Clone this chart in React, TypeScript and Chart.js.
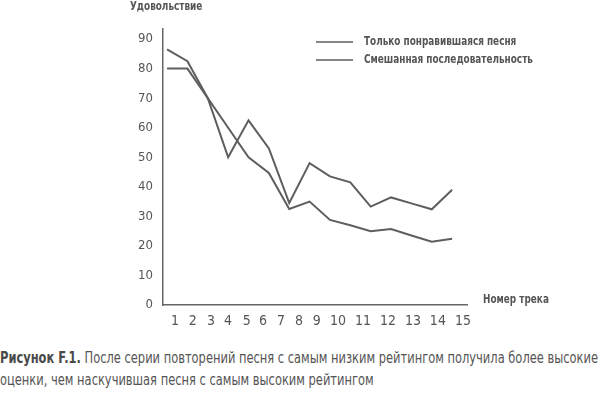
import React, { useEffect, useRef } from "react";
import { Chart, registerables } from "chart.js";

Chart.register(...registerables);

const tracks = [1, 2, 3, 4, 5, 6, 7, 8, 9, 10, 11, 12, 13, 14, 15];
const onlyLiked = [80, 80, 70, 60, 50, 44.7, 32.5, 35, 28.8, 27, 25, 25.7, 23.5, 21.4, 22.4];
const mixed = [86.5, 82.5, 70, 50, 62.5, 53, 34.5, 48, 43.5, 41.5, 33.3, 36.4, 34.4, 32.4, 39];
const seriesLabels = ["Только понравившаяся песня", "Смешанная последовательность"];
const xTickLabels = ["1", "2", "3", "4", "5", "6", "7", "8", "9", "10", "11", "12", "13", "14", "15"];
const xTickValues = [1.39, 2.26, 3.16, 3.99, 4.91, 5.71, 6.6, 7.48, 8.35, 9.39, 10.62, 11.85, 13.08, 14.3, 15.53];
const yTickValues = [0, 10, 20, 30, 40, 50, 60, 70, 80, 90];
const yAxisTitle = "Удовольствие";
const xAxisTitle = "Номер трека";
const captionBold = "Рисунок F.1.";
const captionLines = [
  " После серии повторений песня с самым низким рейтингом получила более высокие",
  "оценки, чем наскучившая песня с самым высоким рейтингом",
];

const FONT = "'DejaVu Sans Condensed', 'Liberation Sans Narrow', sans-serif";
const LINE = "#5e5e5e";
const TEXT = "#555555";
const SX = 0.76;

function drawNarrow(ctx: any, text: string, x: number, y: number) {
  ctx.save();
  ctx.translate(x, y);
  ctx.scale(SX, 1);
  ctx.fillText(text, 0, 0);
  ctx.restore();
}

const textPlugin = {
  id: "textPlugin",
  afterDraw(chart: any) {
    const { ctx, chartArea } = chart;
    ctx.save();
    ctx.fillStyle = TEXT;
    ctx.textBaseline = "middle";
    ctx.textAlign = "left";
    ctx.font = `bold 13px ${FONT}`;
    drawNarrow(ctx, yAxisTitle, chartArea.left - 33, 7);
    drawNarrow(ctx, xAxisTitle, chartArea.right + 16, chartArea.bottom - 5);
    const lx = chartArea.left + 153;
    const ly = chartArea.top + 13;
    chart.data.datasets.forEach((ds: any, i: number) => {
      const y = ly + i * 18;
      ctx.strokeStyle = ds.borderColor;
      ctx.lineWidth = 1.5;
      ctx.beginPath();
      ctx.moveTo(lx, y);
      ctx.lineTo(lx + 37, y);
      ctx.stroke();
      ctx.fillStyle = TEXT;
      drawNarrow(ctx, ds.label, lx + 48, y);
    });
    ctx.restore();
  },
};

export default function App() {
  const ref = useRef<HTMLCanvasElement>(null);
  const capRef = useRef<HTMLDivElement>(null);
  const line1Ref = useRef<HTMLSpanElement>(null);
  useEffect(() => {
    document.body.style.margin = "0";
    if (capRef.current && line1Ref.current) {
      const w = line1Ref.current.getBoundingClientRect().width;
      if (w > 0) capRef.current.style.transform = `scaleX(${598 / w})`;
    }
    const chart = new Chart(ref.current!, {
      type: "line",
      data: {
        datasets: [
          {
            label: seriesLabels[0],
            data: tracks.map((t, i) => ({ x: t, y: onlyLiked[i] })),
            borderColor: LINE,
            borderWidth: 2,
            pointRadius: 0,
            tension: 0,
          },
          {
            label: seriesLabels[1],
            data: tracks.map((t, i) => ({ x: t, y: mixed[i] })),
            borderColor: LINE,
            borderWidth: 2,
            pointRadius: 0,
            tension: 0,
          },
        ],
      },
      options: {
        animation: false,
        responsive: false,
        maintainAspectRatio: false,
        layout: { padding: { left: 0, right: 133, top: 29, bottom: 0 } },
        plugins: { legend: { display: false }, tooltip: { enabled: false }, title: { display: false } },
        scales: {
          x: {
            type: "linear",
            min: 0.8,
            max: 15.73,
            grid: { display: false, drawTicks: false },
            border: { display: true, color: "#666666", width: 1.5 },
            afterBuildTicks: (scale: any) => {
              scale.ticks = xTickValues.map((v) => ({ value: v }));
            },
            afterFit: (scale: any) => {
              scale.height = 35;
            },
            ticks: {
              autoSkip: false,
              maxRotation: 0,
              padding: 8,
              color: TEXT,
              font: { family: FONT, size: 14 },
              callback: (_v: any, i: number) => xTickLabels[i],
            },
          },
          y: {
            type: "linear",
            min: 0,
            max: 93.4,
            grid: { display: false, drawTicks: false },
            border: { display: true, color: "#666666", width: 1.5 },
            afterBuildTicks: (scale: any) => {
              scale.ticks = yTickValues.map((v) => ({ value: v }));
            },
            afterFit: (scale: any) => {
              scale.width = 163;
            },
            ticks: {
              padding: 10,
              color: TEXT,
              font: { family: FONT, size: 13 },
              callback: (v: any) => String(v),
            },
          },
        },
      },
      plugins: [textPlugin],
    });
    return () => chart.destroy();
  }, []);

  return (
    <div style={{ position: "relative", width: 600, height: 397, background: "#fff", overflow: "hidden" }}>
      <canvas ref={ref} width={600} height={340} style={{ position: "absolute", left: 0, top: 0 }} />
      <div
        ref={capRef}
        style={{
          position: "absolute",
          left: 0,
          top: 347,
          fontFamily: FONT,
          fontSize: 15,
          lineHeight: "22px",
          color: TEXT,
          whiteSpace: "nowrap",
          transformOrigin: "0 0",
        }}
      >
        <div>
          <span ref={line1Ref}>
            <span style={{ fontWeight: "bold", color: "#4a4a4a" }}>{captionBold}</span>
            {captionLines[0]}
          </span>
        </div>
        <div>{captionLines[1]}</div>
      </div>
    </div>
  );
}
